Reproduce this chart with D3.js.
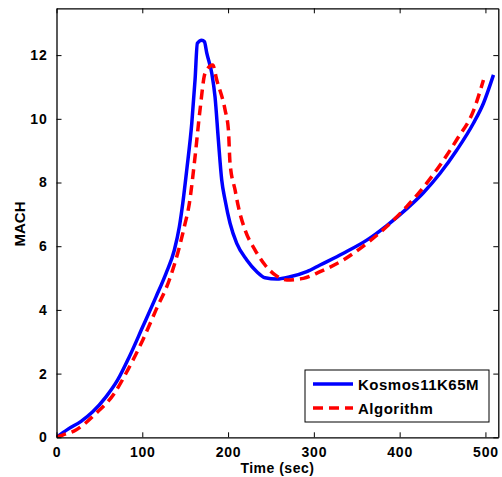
<!DOCTYPE html>
<html>
<head>
<meta charset="utf-8">
<script src="https://cdn.jsdelivr.net/npm/d3@7"></script>
<style>
  html, body { margin: 0; padding: 0; background: #fff; }
  svg text { font-family: "Liberation Sans", Arial, Helvetica, sans-serif; font-weight: bold; }
</style>
</head>
<body>
<svg id="chart" width="502" height="477"></svg>
<script>
// ---- data ----
const kosmosTime = [0, 13, 28.6, 42.2, 57.7, 71.3, 84.9, 100.5, 116, 127.7, 137.4, 143.2, 147.2, 151.8, 157.7, 161.5, 164.2, 169.3, 172.4, 175.2, 181, 184.8, 188.7, 192.6, 196.5, 202.3, 210.1, 221.8, 233.5, 243.1, 256.8, 272.3, 291.8, 307.3, 334.5, 361.7, 385, 408.4, 427.7, 447.2, 466.7, 486, 497.7, 509.4];
const kosmosMach = [0, 0.25, 0.50, 0.80, 1.27, 1.80, 2.53, 3.47, 4.41, 5.15, 5.88, 6.61, 7.35, 8.39, 9.86, 11.22, 12.37, 12.47, 12.42, 12.06, 11.43, 10.69, 9.33, 8.08, 7.45, 6.72, 6.09, 5.57, 5.20, 5.01, 4.97, 5.04, 5.20, 5.41, 5.78, 6.19, 6.65, 7.18, 7.68, 8.29, 9.02, 9.86, 10.49, 11.38];
const algoTime = [0, 7.2, 22.7, 46, 67.4, 83, 100.5, 116, 131.5, 141.3, 149, 154.9, 161.5, 167.3, 173.2, 182.1, 186.8, 196.5, 200.4, 202.3, 208.2, 212, 219.8, 231.5, 243.1, 254.8, 268.5, 287.8, 307.3, 334.5, 361.7, 385, 408.4, 427.7, 447.2, 466.7, 486, 497.7];
const algoMach = [0, 0.07, 0.23, 0.75, 1.38, 2.11, 3.05, 4.0, 4.94, 5.78, 6.61, 7.35, 8.81, 10.28, 11.43, 11.69, 11.22, 10.28, 9.65, 8.60, 7.76, 7.24, 6.51, 5.88, 5.41, 5.10, 4.94, 4.99, 5.20, 5.57, 6.09, 6.62, 7.25, 7.85, 8.55, 9.35, 10.25, 11.22];
const xTicks = [0, 100, 200, 300, 400, 500];
const yTicks = [0, 2, 4, 6, 8, 10, 12];
const seriesNames = ["Kosmos11K65M", "Algorithm"];
const xDomain = [0, 515];
const yDomain = [0, 13.47];

// ---- layout ----
const L = 56.5, R = 498.3, T = 8.3, B = 437.3;
const svg = d3.select("#chart");
const x = d3.scaleLinear().domain(xDomain).range([L, R]);
const y = d3.scaleLinear().domain(yDomain).range([B, T]);

const series = [
  { name: seriesNames[0], t: kosmosTime, m: kosmosMach, color: "#0000ff", dash: null },
  { name: seriesNames[1], t: algoTime, m: algoMach, color: "#ff0000", dash: "10,6" }
];

const line = d3.line().x(d => x(d[0])).y(d => y(d[1])).curve(d3.curveMonotoneX);

const plot = svg.append("g");
plot.append("defs").append("clipPath").attr("id", "clip")
  .append("rect").attr("x", L).attr("y", T).attr("width", R - L).attr("height", B - T);

series.forEach(s => {
  const pts = s.t.map((t, i) => [t, s.m[i]]);
  plot.append("path")
    .attr("d", line(pts))
    .attr("fill", "none")
    .attr("stroke", s.color)
    .attr("stroke-width", 3.5)
    .attr("stroke-linejoin", "round")
    .attr("stroke-dasharray", s.dash)
    .attr("clip-path", "url(#clip)");
});

// ---- axes (MATLAB style: inward ticks, box) ----
const tickLen = 5;
const axB = svg.append("g").attr("transform", `translate(0,${B})`)
  .call(d3.axisBottom(x).tickValues(xTicks).tickSizeInner(-tickLen).tickSizeOuter(0).tickPadding(9.5));
const axT = svg.append("g").attr("transform", `translate(0,${T})`)
  .call(d3.axisTop(x).tickValues(xTicks).tickSizeInner(-tickLen).tickSizeOuter(0).tickFormat(""));
const axL = svg.append("g").attr("transform", `translate(${L},0)`)
  .call(d3.axisLeft(y).tickValues(yTicks).tickSizeInner(-tickLen).tickSizeOuter(0).tickPadding(9));
const axR = svg.append("g").attr("transform", `translate(${R},0)`)
  .call(d3.axisRight(y).tickValues(yTicks).tickSizeInner(-tickLen).tickSizeOuter(0).tickFormat(""));

[axB, axT, axL, axR].forEach(a => {
  a.select(".domain").attr("stroke", "#000").attr("stroke-width", 1.3);
  a.selectAll(".tick line").attr("stroke", "#000").attr("stroke-width", 1);
  a.selectAll("text").attr("fill", "#000").style("font-size", "14px")
    .style("letter-spacing", "0.8px")
    .style("font-family", '"Liberation Sans", Arial, sans-serif').style("font-weight", "bold");
});
axB.selectAll(".tick text").attr("dy", "0.71em");

// axis labels
svg.append("text").attr("x", (L + R) / 2).attr("y", 472.5)
  .attr("text-anchor", "middle").style("font-size", "14px").style("letter-spacing", "0.5px").text("Time (sec)");
svg.append("text").attr("transform", `translate(25,${224}) rotate(-90)`)
  .attr("text-anchor", "middle").style("font-size", "15px").text("MACH");

// ---- legend ----
const lg = svg.append("g");
lg.append("rect").attr("x", 305).attr("y", 370).attr("width", 184).attr("height", 52)
  .attr("fill", "#fff").attr("stroke", "#000").attr("stroke-width", 1);
series.forEach((s, i) => {
  const yy = 384 + i * 24;
  lg.append("line").attr("x1", 313).attr("x2", 353).attr("y1", yy).attr("y2", yy)
    .attr("stroke", s.color).attr("stroke-width", 3.5).attr("stroke-dasharray", s.dash);
  lg.append("text").attr("x", 358).attr("y", yy + 5.5).style("font-size", "15px")
    .style("letter-spacing", "0.5px").text(s.name);
});
</script>
</body>
</html>
